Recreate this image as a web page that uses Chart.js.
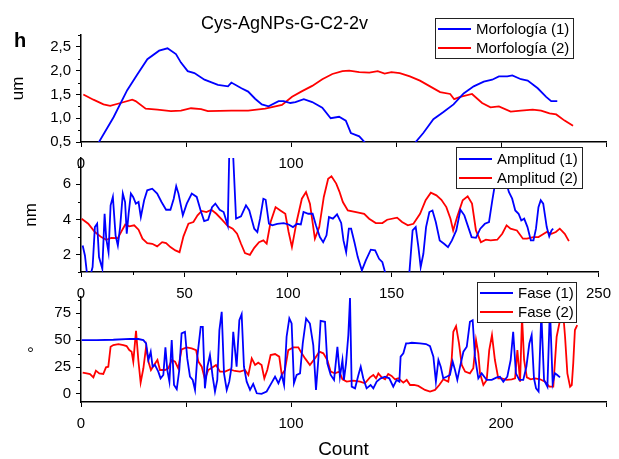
<!DOCTYPE html>
<html>
<head>
<meta charset="utf-8">
<script src="https://cdn.jsdelivr.net/npm/chart.js@4.4.1/dist/chart.umd.min.js"></script>
<style>
  body { margin: 0; background: #fff; }
  #wrap { position: relative; width: 619px; height: 459px; font-family: "Liberation Sans", Arial, sans-serif; color: #000; }
  #wrap canvas { position: absolute; left: 0; top: 0; }
  .title { position: absolute; left: 0; width: 569px; top: 14px; text-align: center; font-size: 18px; line-height: 18px; }
  .tag { position: absolute; left: 14px; top: 30px; font-size: 20px; line-height: 20px; font-weight: bold; }
</style>
</head>
<body>
<div id="wrap">
  <canvas id="morfChart" width="619" height="459"></canvas>
  <canvas id="ampChart" width="619" height="459"></canvas>
  <canvas id="faseChart" width="619" height="459"></canvas>
  <div class="title">Cys-AgNPs-G-C2-2v</div>
  <div class="tag">h</div>
</div>
<script>
// Count axis, shared by all three panels
const countTicks = [0, 50, 100, 150, 200, 250];
const countLabelsWide = [0, 100, 200];
const countLabelsAll = [0, 50, 100, 150, 200, 250];
const countMinor = [25, 75, 125, 175, 225];

// Morfología (um)
const morfYTicks = [0.5, 1, 1.5, 2, 2.5];
const morfYMinor = [0.75, 1.25, 1.75, 2.25, 2.75];
const morf1X = [6, 8.3, 15.5, 22, 26.8, 31.6, 37.2, 41.2, 45.2, 47.6, 50.8, 54, 58.8, 65.2, 70, 71.6, 76.4, 79.6, 82.9, 86.1, 89.3, 94.1, 96.5, 99.7, 102.1, 106.1, 110.1, 114.9, 118.9, 122.9, 126.1, 128.5, 132.5, 135.4, 140, 155, 159, 163, 167.8, 172.6, 177.4, 182.2, 187, 191.8, 195.8, 199, 203, 205.4, 209.5, 212.7, 217.5, 221.5, 223.9, 226.8];
const morf1Y = [0.35, 0.48, 1.02, 1.59, 1.92, 2.24, 2.42, 2.47, 2.35, 2.17, 1.99, 1.95, 1.81, 1.70, 1.67, 1.75, 1.63, 1.56, 1.41, 1.29, 1.25, 1.36, 1.36, 1.32, 1.34, 1.40, 1.34, 1.22, 1.00, 1.03, 0.95, 0.69, 0.62, 0.48, 0.3, 0.3, 0.48, 0.69, 0.98, 1.13, 1.29, 1.52, 1.67, 1.77, 1.81, 1.88, 1.88, 1.90, 1.82, 1.79, 1.63, 1.45, 1.36, 1.36];
const morf2X = [1.1, 5.9, 10.7, 13.9, 18.8, 24.4, 26, 30.8, 36.4, 42.8, 47.6, 52.4, 57.2, 60.4, 71.6, 79.6, 87.7, 95.7, 100.5, 105.3, 110.1, 114.9, 119.7, 124.5, 127.7, 132.5, 137.3, 141.3, 144.6, 147.8, 151.8, 156.6, 161.4, 166.2, 171, 175.8, 177.7, 180.6, 186.2, 191, 195, 199, 204.6, 209.5, 215.1, 219.1, 223.1, 226.3, 230.3, 234.3];
const morf2Y = [1.50, 1.39, 1.29, 1.26, 1.32, 1.39, 1.36, 1.20, 1.18, 1.15, 1.16, 1.21, 1.19, 1.15, 1.16, 1.16, 1.20, 1.28, 1.45, 1.57, 1.68, 1.82, 1.93, 1.99, 2.00, 1.97, 1.96, 1.99, 1.94, 1.97, 1.95, 1.88, 1.79, 1.67, 1.55, 1.51, 1.40, 1.45, 1.51, 1.32, 1.23, 1.25, 1.14, 1.16, 1.18, 1.16, 1.10, 1.08, 0.95, 0.84];

// Amplitud (nm)
const ampYTicks = [2, 4, 6];
const ampYMinor = [1, 3, 5, 7];
const amp1X = [0.8, 1.9, 3, 4.3, 5.6, 6.7, 7.8, 8.7, 10.3, 11.4, 12.2, 13.3, 14.3, 15.4, 16.7, 17.8, 18.9, 20.2, 21.3, 22.1, 23, 24.1, 25.2, 26.5, 27.8, 28.9, 30.5, 32, 34.4, 36.8, 38.9, 41.1, 43.2, 44.8, 46, 47.1, 49.2, 51.1, 53.5, 55.9, 57.8, 59.5, 61.4, 63.3, 64.9, 67, 68.9, 70.9, 71.7, 73.3, 74.9, 77.3, 79.7, 81.3, 83.7, 85.2, 86.5, 88.1, 89.2, 90.8, 92.4, 94.8, 97.9, 100.3, 102.4, 104.3, 106.2, 107.5, 109.8, 111.9, 113.5, 115.4, 117, 118.6, 119.8, 121.7, 123.7, 125.7, 126.8, 128.1, 129.4, 130.5, 132.1, 133.7, 135.7, 137.6, 140, 142.1, 144, 145.6, 147.1, 152, 158.6, 160.2, 161.7, 163, 164.1, 165.4, 166.7, 168.3, 169.8, 171.4, 173.3, 175.4, 177.3, 179.2, 181.3, 183.3, 185.2, 186.8, 188.7, 190.8, 192.9, 195.1, 197.1, 198.7, 200.3, 201.9, 204.3, 206.7, 208.3, 209.8, 211.4, 212.7, 214.1, 215.7, 217.3, 218.6, 219.8, 221, 222.1, 223.3, 225, 226.2, 227.3, 228.1];
const amp1Y = [2.51, 1.94, 0.8, 0.7, 1.28, 3.56, 3.75, 1.85, 1.18, 4.32, 2.9, 2.13, 4.8, 5.28, 3.09, 2.51, 3.56, 5.47, 4.99, 3.18, 4.32, 5.47, 5.28, 4.9, 4.99, 4.13, 5.09, 5.66, 5.75, 5.47, 4.99, 4.55, 4.55, 5.18, 5.89, 5.47, 4.23, 4.9, 5.47, 5.28, 4.51, 3.9, 3.98, 4.7, 4.9, 4.55, 4.42, 3.66, 8.2, 8.2, 4.04, 4.17, 4.8, 4.51, 3.47, 3.28, 4.04, 5.18, 5.12, 3.75, 3.66, 3.75, 3.79, 3.71, 3.56, 3.75, 3.71, 4.42, 4.32, 4.32, 3.66, 2.99, 2.7, 3.09, 4.13, 4.04, 4.29, 3.8, 2.8, 2.13, 3.47, 3.47, 2.7, 1.85, 1.09, 1.66, 2.27, 2.23, 1.75, 1.56, 0.9, 0.5, 0.9, 3.37, 3.56, 2.42, 1.28, 2.04, 3.56, 4.42, 4.51, 3.85, 2.8, 2.61, 2.42, 2.8, 3.37, 4.55, 4.23, 3.66, 2.99, 2.95, 3.47, 3.75, 3.85, 5.09, 6.23, 6.8, 6.6, 5.56, 5.18, 4.51, 4.32, 3.94, 4.04, 3.56, 2.8, 2.8, 3.47, 4.7, 5.09, 4.9, 3.56, 3.03, 3.37, 3.47];
const amp2X = [0.3, 3.5, 6.7, 9.8, 12.2, 14.6, 17.8, 19.8, 21.4, 23.3, 25.7, 27.8, 29.7, 32, 34.4, 36.8, 39.2, 41.1, 43.2, 45.6, 47.6, 49.5, 51.9, 54.3, 56.3, 58.3, 60.6, 63, 65.4, 68.1, 70.9, 73.3, 75.4, 77.3, 79.2, 81.6, 83.7, 86, 88.1, 89.7, 91.6, 94, 96.3, 98.7, 100.3, 101.9, 104.3, 106.7, 108.7, 110.6, 113, 115.1, 117.3, 119.4, 121, 123.3, 124.8, 126.5, 128.9, 132.9, 136.8, 139.2, 142.4, 145.6, 147.9, 152.7, 155.1, 157.9, 160.6, 163.8, 166.5, 169, 171.7, 174.1, 176.5, 178.5, 179.8, 181.7, 184.4, 186.8, 188.9, 190.8, 193.2, 195.6, 197.9, 201.1, 203.5, 205.6, 207.5, 210.6, 213.5, 215.4, 218.6, 221, 223, 225, 227.3, 229.4, 231.3, 233.7, 235.7];
const amp2Y = [4.04, 3.75, 3.28, 2.99, 2.84, 2.95, 2.93, 3.37, 3.71, 3.6, 3.66, 3.41, 2.9, 2.65, 2.61, 2.46, 2.7, 2.65, 2.42, 2.23, 2.13, 3.03, 3.75, 3.85, 4.23, 4.48, 4.42, 4.55, 4.32, 3.98, 3.62, 3.47, 3.18, 2.61, 2.08, 1.98, 2.38, 2.7, 2.8, 2.61, 3.85, 4.7, 4.51, 4.32, 3.28, 2.42, 3.94, 5.18, 5.56, 4.9, 2.9, 3.56, 5.28, 6.32, 6.46, 6.04, 5.6, 4.99, 4.51, 4.42, 4.32, 4.04, 3.79, 3.79, 3.98, 4.1, 3.85, 3.66, 3.75, 4.32, 5.09, 5.52, 5.37, 5.12, 4.7, 4.04, 3.37, 4.13, 5.09, 5.31, 4.9, 3.37, 2.7, 2.84, 2.8, 2.84, 3.18, 3.66, 3.47, 3.37, 2.9, 2.9, 2.99, 2.99, 3.14, 3.28, 3.18, 3.28, 3.47, 3.18, 2.76];

// Fase (degrees)
const faseYTicks = [0, 25, 50, 75];
const faseYMinor = [12.5, 37.5, 62.5, 87.5];
const fase1X = [0.3, 7.5, 15.4, 23.3, 27.3, 29.7, 31, 32.1, 33.2, 34.1, 35.2, 36.8, 37.9, 39.2, 40.2, 41.1, 42.1, 43.2, 44.3, 45.6, 46.8, 47.9, 49.5, 50.6, 51.9, 53.2, 54.3, 55.4, 57, 58, 59, 60.2, 61.4, 62.7, 63.8, 64.9, 65.9, 67, 68.1, 69.4, 70.6, 71.7, 72.5, 74.1, 75.4, 76.5, 77.6, 78.9, 80.5, 82, 83.7, 86, 88.4, 90.8, 92.4, 94, 95.6, 96.7, 97.9, 99.2, 100.3, 101.4, 102.7, 104.3, 105.6, 107.2, 109, 110.6, 111.9, 113, 114.1, 116.2, 117.3, 118.9, 120.5, 122.1, 123.3, 124.5, 125.2, 126.2, 127.3, 128.1, 128.9, 130.5, 132.1, 133.2, 134.4, 136, 137.9, 139.2, 140.8, 142.7, 144.8, 146.8, 148.7, 150.3, 151.6, 152.2, 153.5, 154.8, 155.9, 157.5, 161.4, 164.3, 166.2, 167.8, 169, 170.2, 171.3, 172.5, 174.1, 175.7, 177, 178.1, 179.2, 180.5, 182.1, 183.7, 185.2, 186.5, 187.6, 189.2, 190.8, 193.2, 195.6, 198, 199.5, 201.1, 203, 204.6, 205.8, 207.1, 208.7, 210.6, 212.1, 213.5, 214.6, 215.7, 216.7, 217.9, 219.2, 220.5, 222.1, 223.3, 224.6, 225.7, 226.8, 228.1];
const fase1Y = [50, 50, 50.3, 51.2, 51, 50, 46.9, 31.5, 39.2, 25.3, 26.9, 20.7, 14.5, 17.6, 43.2, 22.2, 11.4, 50, 8.3, 4.3, 22.2, 56.2, 57.7, 33, 16, 13, 3.7, 34.6, 62.3, 62.3, 5.2, 25.3, 36.1, 16, 2.2, 13, 59.3, 76.2, 19.1, 3.7, 11.4, 25.3, 57.7, 25.3, 68.5, 74, 25.3, 11.4, 3.7, 9.3, 0.6, 0, 2.2, 10.5, 16, 9.9, 17.6, 8.3, 53.1, 70.1, 65.4, 9.9, 17.6, 19.1, 46.9, 70.1, 65.4, 45.4, 3.7, 31.5, 67.9, 67, 28.4, 17.6, 13, 43.8, 16, 31.5, 13, 28.4, 54.6, 89, 6.8, 5.2, 17.6, 25.3, 14.5, 5.2, 8.3, 5.2, 11.4, 14.5, 16, 14.5, 6.8, 13, 11.4, 34.6, 37.7, 46.9, 46.9, 47.5, 46.9, 46.3, 44.4, 34.6, 11.4, 31.5, 25.3, 14.5, 16, 17.6, 30, 22.2, 13, 25.3, 39.2, 43.8, 67, 68.5, 34.6, 14.5, 19.1, 13, 13, 15.4, 16, 11.4, 16, 31.5, 57.7, 19.1, 13, 13, 25.3, 46.9, 54.6, 14.5, 5.2, 2.2, 75, 13, 6.8, 80, 9.9, 19.1, 17.6, 15.4];
const fase2X = [0.8, 2.7, 4.3, 5.9, 7.1, 8.7, 10.6, 11.9, 13, 14.1, 15.4, 17.8, 20.2, 21.7, 23, 24.1, 24.9, 26.2, 27.3, 28.4, 29.7, 31, 32.1, 33.3, 34.8, 36.4, 37.6, 40, 41.6, 43.2, 44.8, 46.3, 47.9, 50.3, 52.7, 54.8, 55.9, 57.5, 59, 60.6, 62.7, 64.3, 66.2, 68.6, 70.9, 73.3, 75.7, 78.1, 79.7, 81.3, 82.9, 84.4, 86, 87.3, 88.7, 90.3, 92.4, 94.4, 95.6, 97.1, 98.7, 101.1, 103.5, 105.1, 106.7, 109, 111.4, 113.5, 115.4, 117.3, 118.9, 120.9, 123, 124.5, 126.5, 129.7, 132.9, 135.2, 137.6, 139.2, 140.5, 141.6, 143.2, 144.8, 146.3, 147.9, 149.5, 151.1, 153.5, 155.1, 156.7, 158.6, 160.6, 163.8, 166.2, 168.6, 170.6, 172.5, 174.9, 176.5, 177.3, 178.6, 180, 181.3, 182.9, 185.2, 186.8, 188.1, 189.2, 190, 191.6, 193.2, 194.4, 195.7, 197.1, 198.7, 200.3, 202.7, 205.1, 206.7, 207.8, 209.1, 210, 211, 212.3, 214.1, 216.2, 218.6, 221, 223, 224.9, 226.5, 228.1, 229.4, 230.5, 231.6, 232.9, 233.7, 234.4, 235.2, 236.3];
const fase2Y = [19.8, 19.1, 18.5, 15.4, 21.6, 19.1, 18.5, 24.7, 25.3, 43.8, 45.4, 46.3, 45.4, 44.4, 40.7, 39.2, 30, 58.6, 31.5, 10.5, 23.8, 43.8, 30, 22.2, 26.9, 31.5, 22.2, 22.2, 23.8, 31.5, 30, 23.8, 41.3, 43.2, 42.3, 40.7, 30, 25.3, 13.6, 22.2, 24.7, 26.9, 20.7, 20.7, 22.8, 21.3, 20.7, 22.2, 17.6, 33, 26.9, 29, 26.9, 14.5, 22.2, 36.1, 37, 34.6, 17.6, 22.2, 40.7, 43.2, 43.2, 37.7, 33, 26.9, 33, 39.2, 37.7, 31.5, 20.7, 19.1, 20.7, 13.5, 11.4, 12.3, 11.4, 9.9, 15.4, 17.6, 14.5, 19.1, 15.4, 13.6, 18.5, 16.7, 13.6, 14.5, 10.5, 13, 8.3, 8.3, 7.4, 3.7, 2.2, 3.7, 8.3, 13.6, 11.4, 31.5, 57.7, 63, 46.9, 26.9, 20.7, 19.1, 23.8, 50, 37.7, 19.1, 8.3, 13, 40.7, 54.6, 31.5, 14.5, 14.5, 13, 13.6, 14.5, 40.7, 11.4, 72, 31.5, 15.4, 13.6, 14.5, 13.6, 11.4, 6.8, 6.8, 53.1, 68.5, 80, 53.1, 19.1, 6.8, 8.3, 28.4, 59.3, 63.9];

const BLUE = '#0000ff';
const RED = '#ff0000';
const FONT = 'Liberation Sans';

function pairs(xs, ys) {
  return xs.map((x, i) => ({ x: x, y: ys[i] }));
}

// framed legend with line samples, drawn inside the plot
const boxLegend = {
  id: 'boxLegend',
  afterDraw(chart, args, o) {
    const ctx = chart.ctx;
    ctx.save();
    ctx.fillStyle = '#fff';
    ctx.fillRect(o.left, o.top, o.width, o.height);
    ctx.strokeStyle = '#222';
    ctx.lineWidth = 1;
    ctx.strokeRect(o.left + 0.5, o.top + 0.5, o.width, o.height);
    ctx.font = '15px "' + FONT + '"';
    ctx.textBaseline = 'middle';
    ctx.fillStyle = '#000';
    chart.data.datasets.forEach((ds, i) => {
      const y = o.top + o.rowTop + i * o.rowGap;
      ctx.strokeStyle = ds.borderColor;
      ctx.lineWidth = 1.8;
      ctx.beginPath();
      ctx.moveTo(o.left + 3, y);
      ctx.lineTo(o.left + 36, y);
      ctx.stroke();
      ctx.fillText(ds.label, o.left + 41, y + 1);
    });
    ctx.restore();
  }
};

// short unlabeled ticks between the labeled ones
const minorTicks = {
  id: 'minorTicks',
  afterDraw(chart, args, o) {
    const ctx = chart.ctx;
    const area = chart.chartArea;
    ctx.save();
    ctx.strokeStyle = '#000';
    ctx.lineWidth = 1;
    ctx.beginPath();
    (o.x || []).forEach(v => {
      const px = Math.round(chart.scales.x.getPixelForValue(v)) + 0.5;
      ctx.moveTo(px, area.bottom);
      ctx.lineTo(px, area.bottom + 3);
    });
    (o.y || []).forEach(v => {
      const py = Math.round(chart.scales.y.getPixelForValue(v)) + 0.5;
      ctx.moveTo(area.left - 3, py);
      ctx.lineTo(area.left, py);
    });
    ctx.stroke();
    ctx.restore();
  }
};

function panel(id, p) {
  const tickFont = { family: FONT, size: 15 };
  return new Chart(document.getElementById(id), {
    type: 'line',
    data: {
      datasets: [
        { label: p.names[0], data: pairs(p.s1[0], p.s1[1]), borderColor: BLUE },
        { label: p.names[1], data: pairs(p.s2[0], p.s2[1]), borderColor: RED }
      ]
    },
    options: {
      responsive: false,
      animation: false,
      layout: { padding: { top: p.top, bottom: p.bottom, left: 0, right: 13 } },
      elements: {
        point: { radius: 0 },
        line: { borderWidth: 1.8, tension: 0, fill: false }
      },
      plugins: {
        legend: { display: false },
        tooltip: { enabled: false },
        boxLegend: p.legend,
        minorTicks: { x: p.xMinor, y: p.yMinor }
      },
      scales: {
        x: {
          type: 'linear',
          min: 0,
          max: 250,
          afterBuildTicks: s => { s.ticks = countTicks.map(v => ({ value: v })); },
          afterFit: s => { s.height = p.xHeight; },
          grid: { drawOnChartArea: false, tickLength: 5, tickColor: '#000', tickWidth: 1 },
          border: { color: '#000', width: 1.5 },
          ticks: {
            color: '#000', font: tickFont, padding: 8, maxRotation: 0, autoSkip: false,
            callback: v => (p.xLabels.includes(v) ? String(v) : '')
          },
          title: p.xTitle || { display: false }
        },
        y: {
          type: 'linear',
          min: p.yMin,
          max: p.yMax,
          afterBuildTicks: s => { s.ticks = p.yTicks.map(v => ({ value: v })); },
          afterFit: s => { s.width = 81; },
          grid: { drawOnChartArea: false, tickLength: 5, tickColor: '#000', tickWidth: 1 },
          border: { color: '#000', width: 1.5 },
          ticks: { color: '#000', font: tickFont, padding: 5, callback: p.yFormat },
          title: {
            display: true, text: p.yTitle, color: '#000',
            font: { family: FONT, size: 17, lineHeight: 1 },
            padding: { top: p.yTitlePad, bottom: 0 }
          }
        }
      }
    },
    plugins: [boxLegend, minorTicks]
  });
}

panel('morfChart', {
  names: ['Morfología (1)', 'Morfología (2)'],
  s1: [morf1X, morf1Y], s2: [morf2X, morf2Y],
  top: 35, bottom: 287, xHeight: 30,
  yMin: 0.5, yMax: 2.75, yTicks: morfYTicks, yMinor: morfYMinor,
  yFormat: v => v.toFixed(1).replace('.', ','),
  yTitle: 'um', yTitlePad: 10,
  xLabels: countLabelsWide, xMinor: [],
  legend: { left: 435, top: 18, width: 138, height: 40, rowTop: 11, rowGap: 19 }
});

panel('ampChart', {
  names: ['Amplitud (1)', 'Amplitud (2)'],
  s1: [amp1X, amp1Y], s2: [amp2X, amp2Y],
  top: 158, bottom: 157, xHeight: 30,
  yMin: 1, yMax: 7.5, yTicks: ampYTicks, yMinor: ampYMinor,
  yFormat: v => String(v),
  yTitle: 'nm', yTitlePad: 23,
  xLabels: countLabelsAll, xMinor: countMinor,
  legend: { left: 456, top: 147, width: 126, height: 41, rowTop: 12, rowGap: 19 }
});

panel('faseChart', {
  names: ['Fase (1)', 'Fase (2)'],
  s1: [fase1X, fase1Y], s2: [fase2X, fase2Y],
  top: 297, bottom: 0, xHeight: 57,
  yMin: -7.5, yMax: 90, yTicks: faseYTicks, yMinor: faseYMinor,
  yFormat: v => String(v),
  yTitle: '°', yTitlePad: 27,
  xLabels: countLabelsWide, xMinor: [],
  xTitle: {
    display: true, text: 'Count', color: '#000',
    font: { family: FONT, size: 19, lineHeight: 1 },
    padding: { top: 0, bottom: 0 }
  },
  legend: { left: 477, top: 282, width: 99, height: 40, rowTop: 11, rowGap: 19 }
});
</script>
</body>
</html>
